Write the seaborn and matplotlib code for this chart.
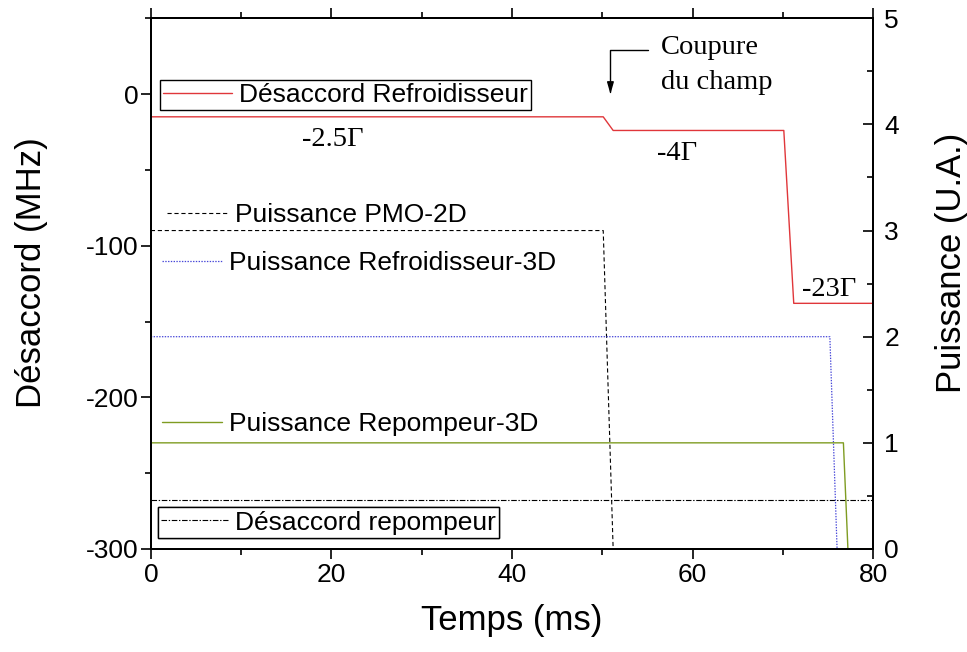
import matplotlib
matplotlib.use("Agg")
import matplotlib.pyplot as plt
import seaborn as sns
import pandas as pd
from matplotlib.ticker import MultipleLocator

# detuning (MHz), left axis
t_refroid = [0, 50.1, 51.2, 70.1, 71.2, 80]
det_refroid = [-15, -15, -24, -24, -138, -138]
t_repomp = [0, 80]
det_repomp = [-268, -268]

# powers (U.A.), right axis
t_pmo = [0, 50.1, 51.2, 80]
p_pmo = [3, 3, 0, 0]
t_ref3d = [0, 75.2, 76.0, 80]
p_ref3d = [2, 2, 0, 0]
t_rep3d = [0, 76.7, 77.2, 80]
p_rep3d = [1, 1, 0, 0]

gamma_labels = ["-2.5\u0393", "-4\u0393", "-23\u0393"]

sns.set_style("ticks")
plt.rcParams['font.family'] = ['Liberation Sans', 'DejaVu Sans']
plt.rcParams['lines.scale_dashes'] = False
plt.rcParams['axes.unicode_minus'] = False
plt.rcParams['text.color'] = 'black'
plt.rcParams['axes.labelcolor'] = 'black'
plt.rcParams['xtick.color'] = 'black'
plt.rcParams['ytick.color'] = 'black'

fig = plt.figure(figsize=(9.67, 6.52), dpi=100)
ax = fig.add_axes([0.156, 0.158, 0.747, 0.814])
ax2 = ax.twinx()

red = '#e0363a'
blue = '#4646d8'
olive = '#7f9c22'

sns.lineplot(x=t_refroid, y=det_refroid, ax=ax, color=red, lw=1.0,
             sort=False, estimator=None, legend=False)
sns.lineplot(x=t_repomp, y=det_repomp, ax=ax, color='black', lw=0.8,
             sort=False, estimator=None, legend=False)
ax.lines[-1].set_linestyle((0, (4, 1.2, 1, 1.2)))

sns.lineplot(x=t_pmo, y=p_pmo, ax=ax2, color='black', lw=0.8,
             sort=False, estimator=None, legend=False)
ax2.lines[-1].set_linestyle((0, (3, 2)))
sns.lineplot(x=t_ref3d, y=p_ref3d, ax=ax2, color=blue, lw=0.9,
             sort=False, estimator=None, legend=False)
ax2.lines[-1].set_linestyle((0, (1, 1)))
sns.lineplot(x=t_rep3d, y=p_rep3d, ax=ax2, color=olive, lw=1.0,
             sort=False, estimator=None, legend=False)

ax.set_xlim(0, 80)
ax.set_ylim(-300, 50)
ax2.set_ylim(0, 5)

ax.xaxis.set_major_locator(MultipleLocator(20))
ax.xaxis.set_minor_locator(MultipleLocator(10))
ax.yaxis.set_major_locator(MultipleLocator(100))
ax.yaxis.set_minor_locator(MultipleLocator(50))
ax2.yaxis.set_major_locator(MultipleLocator(1))
ax2.yaxis.set_minor_locator(MultipleLocator(0.5))

for a in (ax, ax2):
    for s in a.spines.values():
        s.set_linewidth(1.4)
        s.set_color('black')
        s.set_visible(True)

ax.tick_params(which='both', direction='out', top=True, bottom=True, left=True, right=False,
               width=1.2, colors='black', labelsize=19)
ax.tick_params(which='major', length=7)
ax.tick_params(which='minor', length=4.5)
ax.tick_params(axis='y', pad=2)
ax.tick_params(axis='x', pad=3)
ax2.tick_params(which='both', direction='in', right=True, left=False, width=1.2,
                colors='black', labelsize=19, pad=8)
ax2.tick_params(which='major', length=7)
ax2.tick_params(which='minor', length=4.5)

ax.set_xlabel('Temps (ms)', fontsize=25, color='black')
ax.set_ylabel('D\u00e9saccord (MHz)', fontsize=25, color='black')
ax2.set_ylabel('Puissance (U.A.)', fontsize=25, color='black')
ax.xaxis.set_label_coords(0.5, -0.104)
ax.yaxis.set_label_coords(-0.143, 0.52)
ax2.yaxis.set_label_coords(1.086, 0.54)

# legends as separate boxes
def add_leg(handle, text, x, y, hl, frame):
    leg = ax2.legend([handle], [text], loc='center left', bbox_to_anchor=(x, y),
                     borderaxespad=0, borderpad=0.12, handlelength=hl, handletextpad=0.27,
                     frameon=frame, fancybox=False, fontsize=19, labelcolor='black')
    if frame:
        leg.get_frame().set_edgecolor('black')
        leg.get_frame().set_linewidth(1.0)
        leg.get_frame().set_alpha(1)
    ax2.add_artist(leg)

add_leg(ax.lines[0], 'D\u00e9saccord Refroidisseur', 0.0125, 0.855, 2.6, True)
add_leg(ax2.lines[0], 'Puissance PMO-2D', 0.0186, 0.629, 2.3, False)
add_leg(ax2.lines[1], 'Puissance Refroidisseur-3D', 0.0116, 0.5386, 2.27, False)
add_leg(ax2.lines[2], 'Puissance Repompeur-3D', 0.0116, 0.2354, 2.27, False)
add_leg(ax.lines[1], 'D\u00e9saccord repompeur', 0.0097, 0.0499, 2.55, True)

serif = ['Liberation Serif', 'DejaVu Serif']
ax.text(20.2, -34.4, gamma_labels[0], fontsize=20.5, family=serif, ha='center', va='baseline')
ax.text(58.3, -43.4, gamma_labels[1], fontsize=20.5, family=serif, ha='center', va='baseline')
ax.text(75.1, -133.3, gamma_labels[2], fontsize=20.5, family=serif, ha='center', va='baseline')
ax.text(56.5, 26.4, 'Coupure', fontsize=20.5, family=serif, ha='left', va='baseline')
ax.text(56.5, 3.3, 'du champ', fontsize=20.5, family=serif, ha='left', va='baseline')
ax.annotate('', xy=(50.9, 0), xytext=(55.1, 29),
            arrowprops=dict(arrowstyle='-|>,head_length=0.7,head_width=0.2', color='black', lw=1.0,
                            connectionstyle='angle,angleA=180,angleB=90,rad=0',
                            shrinkA=0, shrinkB=0))

fig.savefig('out.png', dpi=100)
